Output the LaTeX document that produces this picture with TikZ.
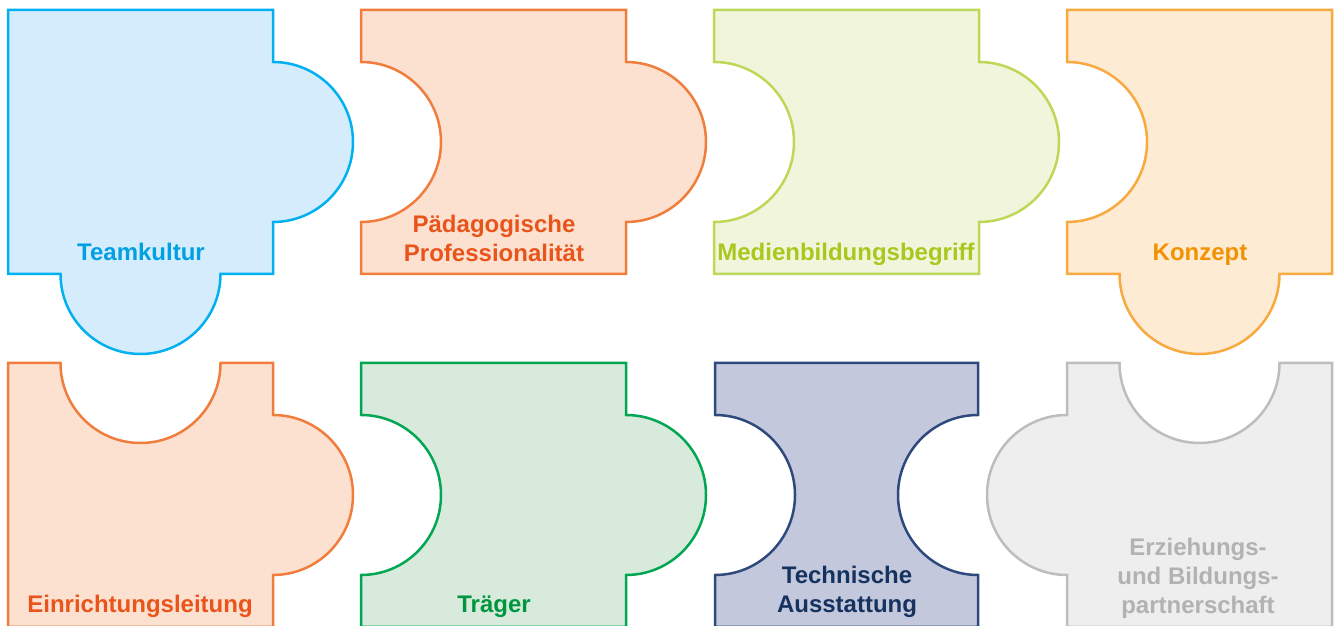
\documentclass[tikz,border=0pt]{standalone}
\usepackage{fontspec}
\setmainfont{Liberation Sans}

\colorlet{teamline}{rgb,255:red,0;green,176;blue,240}
\colorlet{teamfill}{rgb,255:red,212;green,236;blue,251}
\colorlet{teamtext}{rgb,255:red,0;green,160;blue,227}
\colorlet{orline}{rgb,255:red,240;green,125;blue,60}
\colorlet{orfill}{rgb,255:red,252;green,225;blue,209}
\colorlet{ortext}{rgb,255:red,233;green,84;blue,26}
\colorlet{medline}{rgb,255:red,189;green,216;blue,87}
\colorlet{medfill}{rgb,255:red,240;green,245;blue,220}
\colorlet{medtext}{rgb,255:red,168;green,200;blue,30}
\colorlet{konline}{rgb,255:red,248;green,169;blue,64}
\colorlet{konfill}{rgb,255:red,253;green,235;blue,211}
\colorlet{kontext}{rgb,255:red,243;green,146;blue,0}
\colorlet{trline}{rgb,255:red,0;green,166;blue,81}
\colorlet{trfill}{rgb,255:red,215;green,234;blue,219}
\colorlet{trtext}{rgb,255:red,0;green,150;blue,64}
\colorlet{techline}{rgb,255:red,46;green,74;blue,125}
\colorlet{techfill}{rgb,255:red,195;green,200;blue,221}
\colorlet{techtext}{rgb,255:red,22;green,51;blue,95}
\colorlet{erzline}{rgb,255:red,189;green,189;blue,189}
\colorlet{erzfill}{rgb,255:red,238;green,238;blue,238}
\colorlet{erztext}{rgb,255:red,178;green,178;blue,178}

\begin{document}
\begin{tikzpicture}[x=1pt, y=1pt,
    piece/.style={line width=2.5pt, line join=miter},
    label/.style={anchor=base, align=center, inner sep=0pt,
      font=\fontsize{24}{29}\selectfont\bfseries}]
  \useasboundingbox (0,0) rectangle (1336,626);
  \clip (0,0) rectangle (1336,626);
  % top row
  \draw[piece, draw=teamline, fill=teamfill, shift={(8,352)}]
    (0,0) -- (0,264) -- (265,264) -- (265,212)
    arc[start angle=90, end angle=-90, radius=80] -- (265,0) -- (212.5,0)
    arc[start angle=0, end angle=-180, radius=80] -- cycle;
  \draw[piece, draw=orline, fill=orfill, shift={(361,352)}]
    (0,0) -- (0,52) arc[start angle=-90, end angle=90, radius=80]
    -- (0,264) -- (265,264) -- (265,212)
    arc[start angle=90, end angle=-90, radius=80] -- (265,0) -- cycle;
  \draw[piece, draw=medline, fill=medfill, shift={(714,352)}]
    (0,0) -- (0,52) arc[start angle=-90, end angle=90, radius=80]
    -- (0,264) -- (265,264) -- (265,212)
    arc[start angle=90, end angle=-90, radius=80] -- (265,0) -- cycle;
  \draw[piece, draw=konline, fill=konfill, shift={(1067,352)}]
    (0,0) -- (0,52) arc[start angle=-90, end angle=90, radius=80]
    -- (0,264) -- (265,264) -- (265,0) -- (212.5,0)
    arc[start angle=0, end angle=-180, radius=80] -- cycle;
  % bottom row
  \draw[piece, draw=orline, fill=orfill, shift={(8,-1)}]
    (0,0) -- (0,264) -- (52.5,264)
    arc[start angle=180, end angle=360, radius=80] -- (265,264) -- (265,212)
    arc[start angle=90, end angle=-90, radius=80] -- (265,0) -- cycle;
  \draw[piece, draw=trline, fill=trfill, shift={(361,-1)}]
    (0,0) -- (0,52) arc[start angle=-90, end angle=90, radius=80]
    -- (0,264) -- (265,264) -- (265,212)
    arc[start angle=90, end angle=-90, radius=80] -- (265,0) -- cycle;
  \draw[piece, draw=techline, fill=techfill, shift={(715,-1)}]
    (0,0) -- (0,52) arc[start angle=-90, end angle=90, radius=80]
    -- (0,264) -- (263,264) -- (263,212)
    arc[start angle=90, end angle=270, radius=80] -- (263,0) -- cycle;
  \draw[piece, draw=erzline, fill=erzfill, shift={(1067,-1)}]
    (0,0) -- (0,52) arc[start angle=-90, end angle=-270, radius=80]
    -- (0,264) -- (52.5,264)
    arc[start angle=180, end angle=360, radius=80] -- (265,264) -- (265,0) -- cycle;
  % labels (base = last line)
  \node[label, text=teamtext] (team) at (141,365) {Teamkultur};
  \node[label, text=ortext] (paed) at (494,364) {Pädagogische\\Professionalität};
  \node[label, text=medtext] (medien) at (846,365) {Medienbildungsbegriff};
  \node[label, text=kontext] (konzept) at (1200,365) {Konzept};
  \node[label, text=ortext] (leitung) at (140,13) {Einrichtungsleitung};
  \node[label, text=trtext] (traeger) at (494,13) {Träger};
  \node[label, text=techtext] (technik) at (847,13) {Technische\\Ausstattung};
  \node[label, text=erztext] (eltern) at (1198,12.5) {Erziehungs-\\und Bildungs-\\partnerschaft};
\end{tikzpicture}
\end{document}
